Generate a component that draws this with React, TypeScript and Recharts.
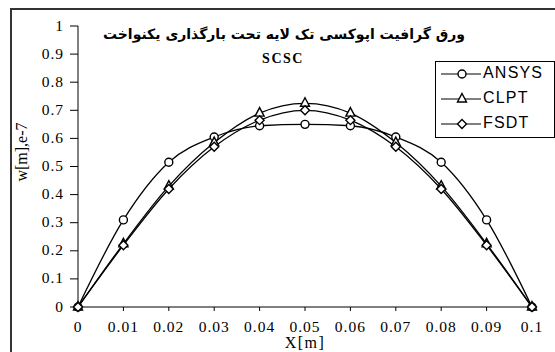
import { LineChart, Line, XAxis, YAxis } from 'recharts';

const xValues = [0, 0.01, 0.02, 0.03, 0.04, 0.05, 0.06, 0.07, 0.08, 0.09, 0.1];
const xTickLabels = ['0', '0.01', '0.02', '0.03', '0.04', '0.05', '0.06', '0.07', '0.08', '0.09', '0.1'];
const yTicks = [0, 0.1, 0.2, 0.3, 0.4, 0.5, 0.6, 0.7, 0.8, 0.9, 1];
const yTickLabels = ['0', '0.1', '0.2', '0.3', '0.4', '0.5', '0.6', '0.7', '0.8', '0.9', '1'];
const ansys = [0, 0.31, 0.515, 0.605, 0.645, 0.65, 0.645, 0.605, 0.515, 0.31, 0];
const clpt = [0, 0.225, 0.43, 0.585, 0.69, 0.725, 0.69, 0.585, 0.43, 0.225, 0];
const fsdt = [0, 0.22, 0.42, 0.57, 0.665, 0.70, 0.665, 0.57, 0.42, 0.22, 0];

const title = 'ورق گرافیت اپوکسی تک لایه تحت بارگذاری  یکنواخت';
const subtitle = 'SCSC';

const data = xValues.map((x, i) => ({ x, ansys: ansys[i], clpt: clpt[i], fsdt: fsdt[i] }));

const serif = 'Liberation Serif, Times New Roman, serif';

type DotProps = { cx?: number; cy?: number; index?: number };
type TickProps = { x?: number; y?: number; index?: number };

// ticks drawn as functions so the serif font and size really apply
const renderXTick = ({ x, y, index }: TickProps) => (
  <text key={`xt-${index}`} x={x} y={(y ?? 0) + 19} textAnchor="middle"
    style={{ fontFamily: serif, fontSize: 15.5, letterSpacing: 1, fill: '#000' }}>
    {xTickLabels[index ?? 0]}
  </text>
);

const renderYTick = ({ x, y, index }: TickProps) => (
  <text key={`yt-${index}`} x={(x ?? 0) - 4} y={(y ?? 0) + 4.5} textAnchor="end"
    style={{ fontFamily: serif, fontSize: 15.5, letterSpacing: 1, fill: '#000' }}>
    {yTickLabels[index ?? 0]}
  </text>
);

const CircleDot = ({ cx, cy, index }: DotProps) =>
  cx == null || cy == null ? null : (
    <circle key={index} cx={cx} cy={cy} r={4} fill="#fff" stroke="#000" strokeWidth={1.4} />
  );

const TriDot = ({ cx, cy, index }: DotProps) =>
  cx == null || cy == null ? null : (
    <path key={index} d={`M${cx},${cy - 5.5} L${cx + 4.5},${cy + 3} L${cx - 4.5},${cy + 3} Z`}
      fill="#fff" stroke="#000" strokeWidth={1.4} />
  );

const DiaDot = ({ cx, cy, index }: DotProps) =>
  cx == null || cy == null ? null : (
    <path key={index} d={`M${cx},${cy - 4.5} L${cx + 4.5},${cy} L${cx},${cy + 4.5} L${cx - 4.5},${cy} Z`}
      fill="#fff" stroke="#000" strokeWidth={1.4} />
  );

const legendItems = [
  { name: 'ANSYS', Dot: CircleDot },
  { name: 'CLPT', Dot: TriDot },
  { name: 'FSDT', Dot: DiaDot },
];

function LegendBox() {
  return (
    <div style={{
      position: 'absolute', left: 435, top: 61, width: 120, height: 77,
      border: '1px solid #000', background: '#fff', boxSizing: 'border-box',
    }}>
      {legendItems.map(({ name, Dot }) => (
        <div key={name} style={{ position: 'relative', height: 25 }}>
          <svg width={44} height={25} style={{ position: 'absolute', left: 3, top: 0 }}>
            <line x1={2} y1={12} x2={42} y2={12} stroke="#000" strokeWidth={1.2} />
            <Dot cx={23} cy={12} />
          </svg>
          <span style={{
            position: 'absolute', left: 47, top: 2, fontFamily: 'Liberation Sans, Arial, sans-serif',
            fontSize: 16, letterSpacing: 1.2, color: '#000',
          }}>{name}</span>
        </div>
      ))}
    </div>
  );
}

export default function App() {
  return (
    <div style={{ position: 'fixed', left: 0, top: 0, width: 555, height: 352, background: '#fff', fontFamily: serif }}>
      <div style={{
        position: 'absolute', left: 10, top: 8, width: 545, height: 344,
        borderLeft: '2px solid #333', borderTop: '2px solid #333',
      }} />
      <LineChart width={555} height={352} data={data}
        margin={{ top: 26, right: 23, left: 0, bottom: 15 }}>
        <XAxis dataKey="x" type="number" domain={[0, 0.1]} ticks={xValues}
          axisLine={{ stroke: '#000' }} tickLine={{ stroke: '#000' }} tickSize={4} height={30}
          tick={renderXTick} interval={0} />
        <YAxis type="number" domain={[0, 1]} ticks={yTicks} width={78}
          axisLine={{ stroke: '#000' }} tickLine={{ stroke: '#000' }} tickSize={8}
          tick={renderYTick} interval={0} />
        <Line type="monotone" dataKey="ansys" name="ANSYS" stroke="#000" strokeWidth={1.3}
          dot={<CircleDot />} isAnimationActive={false} />
        <Line type="monotone" dataKey="clpt" name="CLPT" stroke="#000" strokeWidth={1.3}
          dot={<TriDot />} isAnimationActive={false} />
        <Line type="monotone" dataKey="fsdt" name="FSDT" stroke="#000" strokeWidth={1.3}
          dot={<DiaDot />} isAnimationActive={false} />
      </LineChart>
      <LegendBox />
      <div dir="rtl" style={{
        position: 'absolute', left: 90, width: 388, top: 26, textAlign: 'center',
        fontFamily: 'DejaVu Sans, sans-serif', fontWeight: 'bold', fontSize: 14, color: '#000',
        whiteSpace: 'nowrap',
      }}>{title}</div>
      <div style={{
        position: 'absolute', left: 243, width: 80, top: 51, textAlign: 'center',
        fontFamily: serif, fontWeight: 'bold', fontSize: 14, color: '#000', letterSpacing: 1.5,
      }}>{subtitle}</div>
      <div style={{
        position: 'absolute', left: 265, width: 80, top: 334, textAlign: 'center',
        fontFamily: serif, fontSize: 16, color: '#000', letterSpacing: 1.5,
      }}>X[m]</div>
      <div style={{
        position: 'absolute', left: 22, top: 152, transform: 'translate(-50%, -50%) rotate(-90deg)',
        fontFamily: serif, fontSize: 16, color: '#000', whiteSpace: 'nowrap',
      }}>w[m],e-7</div>
    </div>
  );
}
